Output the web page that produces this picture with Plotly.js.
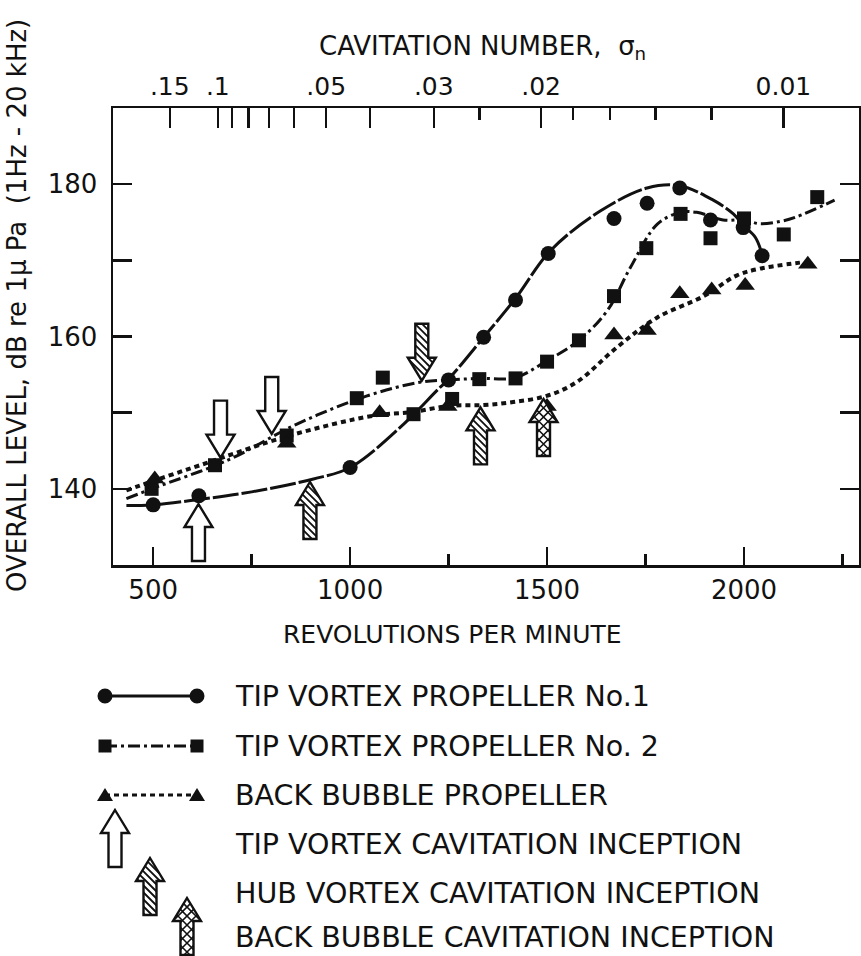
<!DOCTYPE html>
<html><head><meta charset="utf-8">
<script src="https://cdn.plot.ly/plotly-3.0.1.min.js"></script>
<style>html,body{margin:0;padding:0;background:#fff;} #chart{width:861px;height:956px;}</style>
</head><body><div id="chart"></div>
<script>
// ---------------- data ----------------
// Tip vortex propeller No.1 (circles)
const rpmCircle = [500, 616, 1000, 1250, 1339, 1420, 1503, 1670, 1754, 1837, 1915, 1998, 2046];
const dbCircle  = [137.9, 139.1, 142.8, 154.3, 159.9, 164.8, 170.9, 175.5, 177.5, 179.5, 175.3, 174.3, 170.6];
// Tip vortex propeller No.2 (squares)
const rpmSquare = [496, 657, 839, 1017, 1083, 1161, 1259, 1328, 1420, 1500, 1581, 1670, 1752, 1839, 1915, 2000, 2101, 2186];
const dbSquare  = [140.0, 143.1, 147.0, 151.9, 154.6, 149.8, 151.8, 154.4, 154.5, 156.7, 159.5, 165.3, 171.6, 176.1, 172.9, 175.5, 173.4, 178.3];
// Back bubble propeller (triangles)
const rpmTriangle = [504, 839, 1075, 1248, 1500, 1670, 1754, 1837, 1918, 2003, 2162];
const dbTriangle  = [141.3, 146.0, 150.0, 150.8, 150.8, 160.2, 160.8, 165.6, 166.1, 166.7, 169.5];

// faired curves
const fitRpm1 = [432, 500, 616, 750, 907, 1000, 1136, 1220, 1250, 1339, 1420, 1509, 1636, 1754, 1837, 1922, 1973, 2000, 2029, 2047];
const fitDb1  = [137.8, 137.9, 138.6, 139.6, 141.3, 142.8, 148.5, 152.9, 154.4, 159.9, 165.0, 171.3, 176.5, 179.5, 179.8, 177.9, 176.1, 174.5, 173.0, 170.6];
const fitRpm2 = [432, 496, 687, 865, 1043, 1177, 1250, 1329, 1419, 1499, 1581, 1653, 1712, 1780, 1839, 1880, 1947, 2000, 2040, 2091, 2133, 2230];
const fitDb2  = [138.7, 140.0, 143.7, 148.5, 152.2, 154.0, 154.3, 154.5, 154.6, 156.8, 159.5, 163.4, 169.1, 174.75, 176.3, 176.3, 175.3, 175.3, 174.8, 175.1, 175.7, 177.9];
const fitRpm3 = [432, 504, 619, 847, 1059, 1160, 1254, 1339, 1414, 1499, 1575, 1678, 1780, 1898, 1981, 2040, 2142];
const fitDb3  = [139.8, 141.1, 143.1, 147.0, 149.6, 150.1, 150.9, 151.0, 151.4, 152.2, 154.0, 158.6, 162.5, 165.3, 168.0, 168.9, 169.7];

// inception arrows (tip position)
const tipRpm = [615, 671, 801];   const tipDb = [138.0, 144.1, 147.2];   const tipDir = ['up', 'down', 'down'];
const hubRpm = [898, 1182, 1331]; const hubDb = [140.9, 154.2, 150.7];   const hubDir = ['up', 'down', 'up'];
const bubRpm = [1491];            const bubDb = [151.8];                 const bubDir = ['up'];

// axes
const rpmTicks = [500, 1000, 1500, 2000];
const rpmMinor = [750, 1250, 1750, 2250];
const dbTicks = [140, 160, 180];
const dbMinor = [150, 170];
const sigmaMajor = [0.15, 0.1, 0.05, 0.03, 0.02, 0.01];
const sigmaLabels = ['.15', '.1', '.05', '.03', '.02', '0.01'];
const sigmaLongUnlabeled = [0.09, 0.08, 0.07, 0.06, 0.04];
const sigmaShort = [0.025, 0.018, 0.016, 0.014, 0.012];
const SIGMA_K = 44100; // sigma_n = K / rpm^2

const legendTexts = ['TIP VORTEX PROPELLER No.1', 'TIP VORTEX PROPELLER No. 2', 'BACK BUBBLE PROPELLER',
  'TIP VORTEX CAVITATION INCEPTION', 'HUB VORTEX CAVITATION INCEPTION', 'BACK BUBBLE CAVITATION INCEPTION'];

// ---------------- styling / geometry ----------------
const INK = '#111';
const FONT = 'DejaVu Sans';
const PL = 113, PR = 859, PT = 108, PB = 565, FW = 861, FH = 956;
const PW = PR - PL, PH = PB - PT;
const px = x => (x - PL) / PW;
const py = y => (PB - y) / PH;
const sigToRpm = s => Math.sqrt(SIGMA_K / s);
const XR = [398, 2292];

const AR = {len: 57, headH: 23, headW: 14, shaftW: 6.5};
function arrowPieces(dir) {
  const s = dir === 'up' ? -1 : 1;
  const head = [[0, 0], [AR.headW, s * AR.headH], [-AR.headW, s * AR.headH]];
  const shaft = [[-AR.shaftW, s * AR.headH], [AR.shaftW, s * AR.headH], [AR.shaftW, s * AR.len], [-AR.shaftW, s * AR.len]];
  const outline = [[0, 0], [AR.headW, s * AR.headH], [AR.shaftW, s * AR.headH], [AR.shaftW, s * AR.len],
    [-AR.shaftW, s * AR.len], [-AR.shaftW, s * AR.headH], [-AR.headW, s * AR.headH]];
  return {head, shaft, outline};
}
function polyPath(pts) {
  return 'M' + pts.map(p => p[0].toFixed(2) + ',' + p[1].toFixed(2)).join('L') + 'Z';
}
function clipLine(poly, p0, d) {
  let cx = 0, cy = 0;
  poly.forEach(p => { cx += p[0]; cy += p[1]; });
  cx /= poly.length; cy /= poly.length;
  let tmin = -1e9, tmax = 1e9;
  for (let i = 0; i < poly.length; i++) {
    const a = poly[i], b = poly[(i + 1) % poly.length];
    let nx = -(b[1] - a[1]), ny = b[0] - a[0];
    if (nx * (cx - a[0]) + ny * (cy - a[1]) < 0) { nx = -nx; ny = -ny; }
    const num = nx * (p0[0] - a[0]) + ny * (p0[1] - a[1]);
    const den = nx * d[0] + ny * d[1];
    if (Math.abs(den) < 1e-9) { if (num < 0) return null; continue; }
    const t = -num / den;
    if (den > 0) tmin = Math.max(tmin, t); else tmax = Math.min(tmax, t);
  }
  if (tmin >= tmax) return null;
  return [[p0[0] + tmin * d[0], p0[1] + tmin * d[1]], [p0[0] + tmax * d[0], p0[1] + tmax * d[1]]];
}
function hatchPath(pieces, families, step) {
  let path = '';
  families.forEach(f => {
    const d = f === 'back' ? [1, -1] : [1, 1];
    for (let c = -90; c <= 90; c += step) {
      const p0 = [c, 0];
      [pieces.head, pieces.shaft].forEach(poly => {
        const seg = clipLine(poly, p0, d);
        if (seg) path += 'M' + seg[0][0].toFixed(2) + ',' + seg[0][1].toFixed(2) + 'L' + seg[1][0].toFixed(2) + ',' + seg[1][1].toFixed(2);
      });
    }
  });
  return path;
}
function arrowShapes(xref, yref, xa, ya, dir, kind) {
  const pieces = arrowPieces(dir);
  const base = {type: 'path', xref: xref, yref: yref, xsizemode: 'pixel', ysizemode: 'pixel',
    xanchor: xa, yanchor: ya, layer: 'above'};
  const out = [];
  out.push(Object.assign({}, base, {path: polyPath(pieces.outline), fillcolor: '#fff', line: {width: 0}}));
  if (kind === 'hub') out.push(Object.assign({}, base, {path: hatchPath(pieces, ['back'], 7), line: {color: INK, width: 1.8}}));
  if (kind === 'bubble') out.push(Object.assign({}, base, {path: hatchPath(pieces, ['back', 'fwd'], 9), line: {color: INK, width: 1.6}}));
  out.push(Object.assign({}, base, {path: polyPath(pieces.outline), fillcolor: 'rgba(0,0,0,0)', line: {color: INK, width: 2.4}}));
  return out;
}

// ---------------- traces ----------------
const traces = [
  {x: fitRpm1, y: fitDb1, mode: 'lines', line: {shape: 'spline', color: INK, width: 3, dash: '26px,3px'}, hoverinfo: 'skip'},
  {x: fitRpm2, y: fitDb2, mode: 'lines', line: {shape: 'spline', color: INK, width: 3, dash: '12px,4px,3px,4px'}, hoverinfo: 'skip'},
  {x: fitRpm3, y: fitDb3, mode: 'lines', line: {shape: 'spline', color: INK, width: 4, dash: '5px,4px'}, hoverinfo: 'skip'},
  {x: rpmCircle, y: dbCircle, mode: 'markers', marker: {symbol: 'circle', size: 15, color: INK}},
  {x: rpmSquare, y: dbSquare, mode: 'markers', marker: {symbol: 'square', size: 14, color: INK}},
  {x: rpmTriangle, y: dbTriangle, mode: 'markers', marker: {symbol: 'triangle-up', size: 17, color: INK}},
  // carriers for the top (cavitation number) axes, invisible
  {x: [rpmTicks[0]], y: [dbTicks[0]], xaxis: 'x2', mode: 'markers', marker: {opacity: 0}, hoverinfo: 'skip'},
  {x: [rpmTicks[0]], y: [dbTicks[0]], xaxis: 'x3', mode: 'markers', marker: {opacity: 0}, hoverinfo: 'skip'}
];

// ---------------- shapes ----------------
let shapes = [];
tipRpm.forEach((r, i) => { shapes = shapes.concat(arrowShapes('x', 'y', r, tipDb[i], tipDir[i], 'open')); });
hubRpm.forEach((r, i) => { shapes = shapes.concat(arrowShapes('x', 'y', r, hubDb[i], hubDir[i], 'hub')); });
bubRpm.forEach((r, i) => { shapes = shapes.concat(arrowShapes('x', 'y', r, bubDb[i], bubDir[i], 'bubble')); });

// legend glyphs
const rowsY = [696, 746, 795, 844, 893, 937];
const legX0 = 105, legX1 = 197;
const legLine = (y, dash, w) => ({type: 'line', xref: 'paper', yref: 'paper', x0: px(legX0), x1: px(legX1), y0: py(y), y1: py(y),
  line: {color: INK, width: w, dash: dash}});
shapes.push(legLine(rowsY[0], 'solid', 3));
shapes.push(legLine(rowsY[1], '12px,4px,3px,4px', 3));
shapes.push(legLine(rowsY[2], '5px,4px', 3));
const pixShape = (type, xa, ya, extra) => Object.assign({type: type, xref: 'paper', yref: 'paper', xsizemode: 'pixel', ysizemode: 'pixel',
  xanchor: px(xa), yanchor: py(ya), fillcolor: INK, line: {width: 0}}, extra);
[legX0, legX1].forEach(x => {
  shapes.push(pixShape('circle', x, rowsY[0], {x0: -7.5, x1: 7.5, y0: -7.5, y1: 7.5}));
  shapes.push(pixShape('rect', x, rowsY[1], {x0: -6.5, x1: 6.5, y0: -6.5, y1: 6.5}));
  shapes.push(pixShape('path', x, rowsY[2], {path: 'M0,7L8,-6L-8,-6Z'}));
});
shapes = shapes.concat(arrowShapes('paper', 'paper', px(115), py(810), 'up', 'open'));
shapes = shapes.concat(arrowShapes('paper', 'paper', px(150), py(858), 'up', 'hub'));
shapes = shapes.concat(arrowShapes('paper', 'paper', px(187), py(898), 'up', 'bubble'));

// ---------------- annotations ----------------
const annotations = [
  {text: 'CAVITATION NUMBER,&nbsp;&nbsp;σ<sub>n</sub>', xref: 'paper', yref: 'paper', x: px(482), y: py(47),
    xanchor: 'center', yanchor: 'middle', showarrow: false, font: {size: 26, family: FONT, color: INK}},
  {text: 'REVOLUTIONS PER MINUTE', xref: 'paper', yref: 'paper', x: px(452), y: py(634),
    xanchor: 'center', yanchor: 'middle', showarrow: false, font: {size: 25, family: FONT, color: INK}},
  {text: 'OVERALL LEVEL, dB re 1μ Pa&nbsp;&nbsp;(1Hz - 20 kHz)', xref: 'paper', yref: 'paper', x: px(17), y: py(306),
    xanchor: 'center', yanchor: 'middle', textangle: -90, showarrow: false, font: {size: 26, family: FONT, color: INK}}
];
legendTexts.forEach((t, i) => annotations.push({text: t, xref: 'paper', yref: 'paper', x: px(233), y: py(rowsY[i]),
  xanchor: 'left', yanchor: 'middle', showarrow: false, font: {size: 28.5, family: FONT, color: INK}}));

// ---------------- layout ----------------
const axisCommon = {showgrid: false, zeroline: false, showline: true, linewidth: 2.5, linecolor: INK,
  ticks: 'inside', tickwidth: 2.5, tickcolor: INK, tickmode: 'array', tickangle: 0, tickfont: {size: 26, family: FONT, color: INK}};
const layout = {
  width: FW, height: FH,
  margin: {l: PL, r: FW - PR, t: PT, b: FH - PB, pad: 0},
  paper_bgcolor: '#fff', plot_bgcolor: '#fff', showlegend: false,
  font: {family: FONT, color: INK},
  xaxis: Object.assign({}, axisCommon, {range: XR, ticklen: 18, tickvals: rpmTicks, ticktext: rpmTicks.map(String),
    ticklabelstandoff: 0,
    minor: {tickmode: 'array', tickvals: rpmMinor, ticks: 'inside', ticklen: 11, tickwidth: 2.5, tickcolor: INK}}),
  xaxis2: Object.assign({}, axisCommon, {overlaying: 'x', side: 'top', anchor: 'y', range: XR, ticklen: 20,
    tickvals: sigmaMajor.map(sigToRpm), ticktext: sigmaLabels, ticklabelstandoff: 1, tickfont: {size: 25, family: FONT, color: INK},
    minor: {tickmode: 'array', tickvals: sigmaShort.map(sigToRpm), ticks: 'inside', ticklen: 12, tickwidth: 2.5, tickcolor: INK}}),
  xaxis3: Object.assign({}, axisCommon, {overlaying: 'x', side: 'top', anchor: 'y', range: XR, ticklen: 20,
    showline: false, showticklabels: false, tickvals: sigmaLongUnlabeled.map(sigToRpm)}),
  yaxis: Object.assign({}, axisCommon, {range: [130, 190], ticklen: 19, tickvals: dbTicks, ticktext: dbTicks.map(String),
    mirror: 'ticks', ticklabelstandoff: 8,
    minor: {tickmode: 'array', tickvals: dbMinor, ticks: 'inside', ticklen: 19, tickwidth: 2.5, tickcolor: INK}}),
  shapes: shapes,
  annotations: annotations
};
Plotly.newPlot('chart', traces, layout, {staticPlot: true, displayModeBar: false});
</script></body></html>
